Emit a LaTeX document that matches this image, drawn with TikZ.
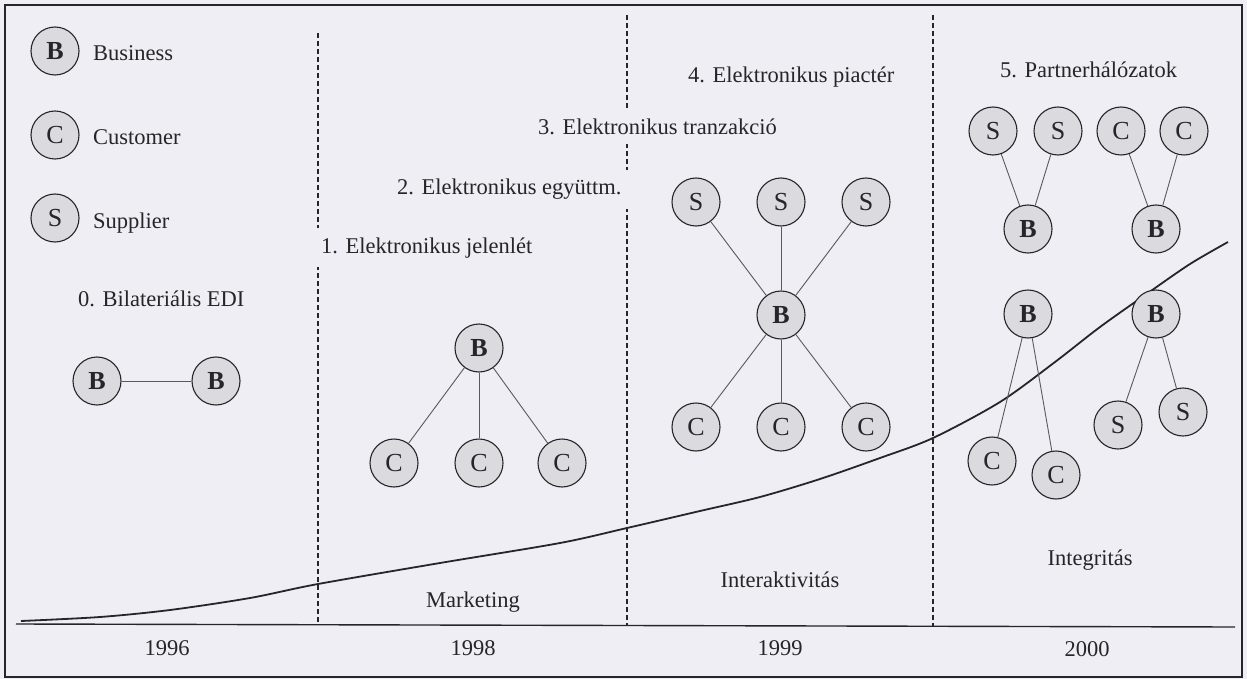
\documentclass[tikz,border=0pt]{standalone}
\usepackage{fontspec}
\setmainfont{Liberation Serif}
\definecolor{paper}{RGB}{238,238,244}
\definecolor{nodefill}{RGB}{218,218,223}
\definecolor{ink}{RGB}{38,38,40}
\definecolor{linkgrey}{RGB}{90,90,92}
\begin{document}
\begin{tikzpicture}[x=1pt,y=-1pt,
  every node/.style={font=\fontsize{22.5}{27}\selectfont, text=ink},
  actor/.style={circle, draw=ink, line width=1.1pt, fill=nodefill,
                minimum size=48pt, inner sep=0pt,
                font=\fontsize{26}{30}\selectfont},
  bnode/.style={actor, font=\fontsize{26}{30}\selectfont\bfseries},
  link/.style={draw=linkgrey, line width=0.9pt},
  phase/.style={fill=paper, inner xsep=14pt, inner ysep=9pt, anchor=base west},
  caption/.style={inner sep=0pt, anchor=base west},
  axislabel/.style={inner sep=0pt, anchor=base},
  divider/.style={draw=ink, line width=1.8pt, dash pattern=on 5pt off 3pt},
]
% paper and frame
\path[use as bounding box, fill=paper] (0,0) rectangle (1247,679);
\draw[ink, line width=1.5pt] (5,5) rectangle (1242,677);

% time axis
\coordinate (axL) at (16,624);
\coordinate (axR) at (1235,627);
\draw[ink, line width=1.4pt] (axL) -- (axR);

% phase dividers
\coordinate (d1t) at (318,33);  \coordinate (d1b) at (318,624);
\coordinate (d2t) at (627,15);  \coordinate (d2b) at (627,625);
\coordinate (d3t) at (933,15);  \coordinate (d3b) at (933,626);
\draw[divider] (d1t) -- (d1b);
\draw[divider] (d2t) -- (d2b);
\draw[divider] (d3t) -- (d3b);

% growth curve
\draw[ink, line width=1.8pt] plot[smooth, tension=0.5] coordinates {
  (21,621) (100,617) (170,610) (250,598) (318,584) (440,563) (560,543)
  (627,528) (700,511) (760,497) (820,479) (880,458) (933,438) (1000,402)
  (1055,362) (1100,327) (1148,293) (1190,264) (1228,242)};

% legend
\node[bnode] (lgB) at (55,51) {B};
\node[actor] (lgC) at (55,135) {C};
\node[actor] (lgS) at (55,218) {S};
\node[caption] (lgBt) at (93,61) {Business};
\node[caption] (lgCt) at (93,145) {Customer};
\node[caption] (lgSt) at (93,228) {Supplier};

% phase titles
\node[phase] (p0) at (64,306) {0. Bilateriális EDI};
\node[phase] (p1) at (307,253) {1. Elektronikus jelenlét};
\node[phase] (p2) at (383,195) {2. Elektronikus együttm.};
\node[phase] (p3) at (524,135) {3. Elektronikus tranzakció};
\node[phase] (p4) at (674,83) {4. Elektronikus piactér};
\node[phase] (p5) at (986,78) {5. Partnerhálózatok};

% axis texts
\node[axislabel] (mk) at (473,607) {Marketing};
\node[axislabel] (ia) at (780,587) {Interaktivitás};
\node[axislabel] (ig) at (1090,565) {Integritás};
\node[axislabel] (y96) at (167,655) {1996};
\node[axislabel] (y98) at (473,655) {1998};
\node[axislabel] (y99) at (780,655) {1999};
\node[axislabel] (y00) at (1087,656) {2000};

% 0. bilateral EDI
\node[bnode] (e1) at (97,381) {B};
\node[bnode] (e2) at (216,381) {B};
\draw[link] (e1) -- (e2);

% 1. electronic presence
\node[bnode] (a0) at (479,348) {B};
\node[actor] (a1) at (394,463) {C};
\node[actor] (a2) at (479,463) {C};
\node[actor] (a3) at (562,463) {C};
\foreach \n in {a1,a2,a3} \draw[link] (a0) -- (\n);

% 4. electronic marketplace
\node[actor] (m1) at (696,202) {S};
\node[actor] (m2) at (781,202) {S};
\node[actor] (m3) at (866,202) {S};
\node[bnode] (m0) at (781,315) {B};
\node[actor] (m4) at (696,427) {C};
\node[actor] (m5) at (781,427) {C};
\node[actor] (m6) at (866,427) {C};
\foreach \n in {m1,m2,m3,m4,m5,m6} \draw[link] (m0) -- (\n);

% 5. partner networks
\node[actor] (n1) at (993,131) {S};
\node[actor] (n2) at (1058,131) {S};
\node[actor] (n3) at (1121,131) {C};
\node[actor] (n4) at (1184,131) {C};
\node[bnode] (nb1) at (1028,229) {B};
\node[bnode] (nb2) at (1156,229) {B};
\draw[link] (n1) -- (nb1);
\draw[link] (n2) -- (nb1);
\draw[link] (n3) -- (nb2);
\draw[link] (n4) -- (nb2);

\node[bnode] (nb3) at (1028,314) {B};
\node[bnode] (nb4) at (1156,314) {B};
\node[actor] (n5) at (992,461) {C};
\node[actor] (n6) at (1056,475) {C};
\node[actor] (n7) at (1118,425) {S};
\node[actor] (n8) at (1183,412) {S};
\draw[link] (nb3) -- (n5);
\draw[link] (nb3) -- (n6);
\draw[link] (nb4) -- (n7);
\draw[link] (nb4) -- (n8);
\end{tikzpicture}
\end{document}
